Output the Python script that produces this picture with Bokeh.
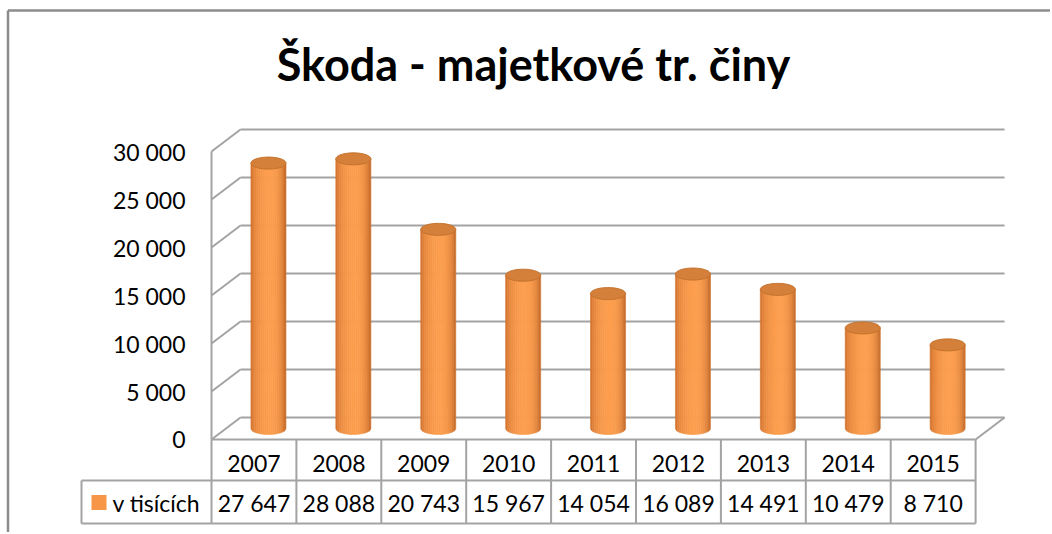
import numpy as np
from bokeh.plotting import figure
from bokeh.models import Range1d, Label
from bokeh.embed import file_html
from bokeh.resources import INLINE
from bokeh.core.properties import value

# ---------------- data ----------------
title_text = "Škoda - majetkové tr. činy"
years = ["2007", "2008", "2009", "2010", "2011", "2012", "2013", "2014", "2015"]
values = [27647, 28088, 20743, 15967, 14054, 16089, 14491, 10479, 8710]
value_labels = ["27 647", "28 088", "20 743", "15 967", "14 054", "16 089", "14 491", "10 479", "8 710"]
series_name = "v tisících"
y_ticks = [0, 5000, 10000, 15000, 20000, 25000, 30000]
y_tick_labels = ["0", "5 000", "10 000", "15 000", "20 000", "25 000", "30 000"]

# ---------------- layout ----------------
W, H = 1050, 532
COL = 84.9        # px per category column
YS = 0.0096       # px per value unit
X0 = 211          # px from left of the front-left corner of the plot box
FLOOR = H - 439   # px from bottom of the floor line

def dx(px):
    return px / COL

def dy(px):
    return px / YS

FONT = value("Lato")
GRID = "#a3a3a3"
ORANGE = "#f79646"

p = figure(width=W, height=H,
           x_range=Range1d(-X0 / COL, (W - X0) / COL),
           y_range=Range1d(-FLOOR / YS, (H - FLOOR) / YS),
           output_backend="svg", toolbar_location=None, min_border=0,
           x_axis_location=None, y_axis_location=None)
p.xgrid.visible = False
p.ygrid.visible = False
p.outline_line_color = None
p.background_fill_color = "white"
p.border_fill_color = "white"

n = len(years)
DX, DY = dx(29), dy(22)

# outer chart border (top and left)
left_b = dx(7.5 - X0)
top_b = dy(H - 10 - FLOOR)
p.segment(x0=[left_b, left_b], y0=[top_b, top_b], x1=[dx(W - X0), left_b], y1=[top_b, -FLOOR / YS - 10],
          line_color="#8c8c8c", line_width=2.5)

# back wall gridlines and left wall diagonals
ticks = np.array(y_ticks, dtype=float)
p.segment(x0=[DX] * len(ticks), y0=ticks + DY, x1=[n + DX] * len(ticks), y1=ticks + DY,
          line_color=GRID, line_width=2)
p.segment(x0=[0] * len(ticks), y0=ticks, x1=[DX] * len(ticks), y1=ticks + DY,
          line_color=GRID, line_width=2)
# front left edge, floor front edge, floor right edge
p.segment(x0=[0, 0, n], y0=[0, 0, 0], x1=[0, n, n + DX], y1=[ticks.max(), 0, DY],
          line_color=GRID, line_width=2)

# data table lines
r1, r2 = -dy(41), -dy(84)
leg_left = dx(81 - 211)
vx = list(range(n + 1))
p.segment(x0=vx, y0=[0] * len(vx), x1=vx, y1=[r2] * len(vx), line_color=GRID, line_width=2)
p.segment(x0=[leg_left, leg_left, leg_left], y0=[r1, r2, r1], x1=[n, n, leg_left], y1=[r1, r2, r2],
          line_color=GRID, line_width=2)

# cylinders
rw = dx(35) / 2
eh = dy(12) / 2
NS = 18
dark_l = np.array([196, 100, 36])
dark_r = np.array([176, 86, 28])
light = np.array([252, 158, 78])

def shade(u):
    d = u - 0.15
    if d < 0:
        s = max(0.0, 1 - (d / 1.15) ** 2)
        base = dark_l
    else:
        s = max(0.0, 1 - (d / 0.85) ** 2)
        base = dark_r
    s = s ** 0.5
    c = base + (light - base) * s
    return "#%02x%02x%02x" % tuple(int(round(v)) for v in c)

xs, ys, cols = [], [], []
cap_xs, cap_ys = [], []
for i, v in enumerate(values):
    cx = i + 0.5 + DX / 2
    base = DY / 2
    top = v + DY / 2
    for k in range(NS):
        u0 = -1 + 2 * k / NS
        u1 = -1 + 2 * (k + 1) / NS
        uu = np.linspace(u0, u1, 5)
        bx = cx + rw * uu
        by = base - eh * np.sqrt(np.clip(1 - uu ** 2, 0, 1))
        px_ = list(bx) + [cx + rw * u1 + 0.0005, cx + rw * u0 - 0.0005]
        py_ = list(by) + [top, top]
        xs.append(px_)
        ys.append(py_)
        cols.append(shade((u0 + u1) / 2))
    th = np.linspace(0, 2 * np.pi, 60)
    cap_xs.append(list(cx + rw * np.cos(th)))
    cap_ys.append(list(top + eh * np.sin(th)))

p.patches(xs=xs, ys=ys, fill_color=cols, line_color=cols, line_width=0.6)
p.patches(xs=cap_xs, ys=cap_ys, fill_color="#d4803a", line_color="#c3722c", line_width=1)

# axis tick labels
p.text(x=[0] * len(y_ticks), y=y_ticks, text=y_tick_labels, x_offset=-26,
       text_align="right", text_baseline="middle", text_font=FONT,
       text_font_size="23px", text_color="black")

# table texts
centers = [i + 0.5 for i in range(n)]
p.text(x=centers, y=[-dy(23.5)] * n, text=years, text_align="center", text_baseline="middle",
       text_font=FONT, text_font_size="23px", text_color="black")
p.text(x=centers, y=[-dy(63.5)] * n, text=value_labels, text_align="center", text_baseline="middle",
       text_font=FONT, text_font_size="23px", text_color="black")

# legend key in table
p.rect(x=[dx(98.5 - 211)], y=[-dy(63)], width=15, height=15, width_units="screen",
       height_units="screen", fill_color=ORANGE, line_color=None)
p.text(x=[dx(112 - 211)], y=[-dy(63.5)], text=[series_name], text_align="left", text_baseline="middle",
       text_font=FONT, text_font_size="23px", text_color="black")

# title
p.add_layout(Label(x=533, y=H - 63, x_units="screen", y_units="screen", text=title_text,
                   text_align="center", text_baseline="middle", text_font="Lato",
                   text_font_style="bold", text_font_size="45px", text_color="black"))

open("out.html", "w").write(file_html(p, INLINE))
